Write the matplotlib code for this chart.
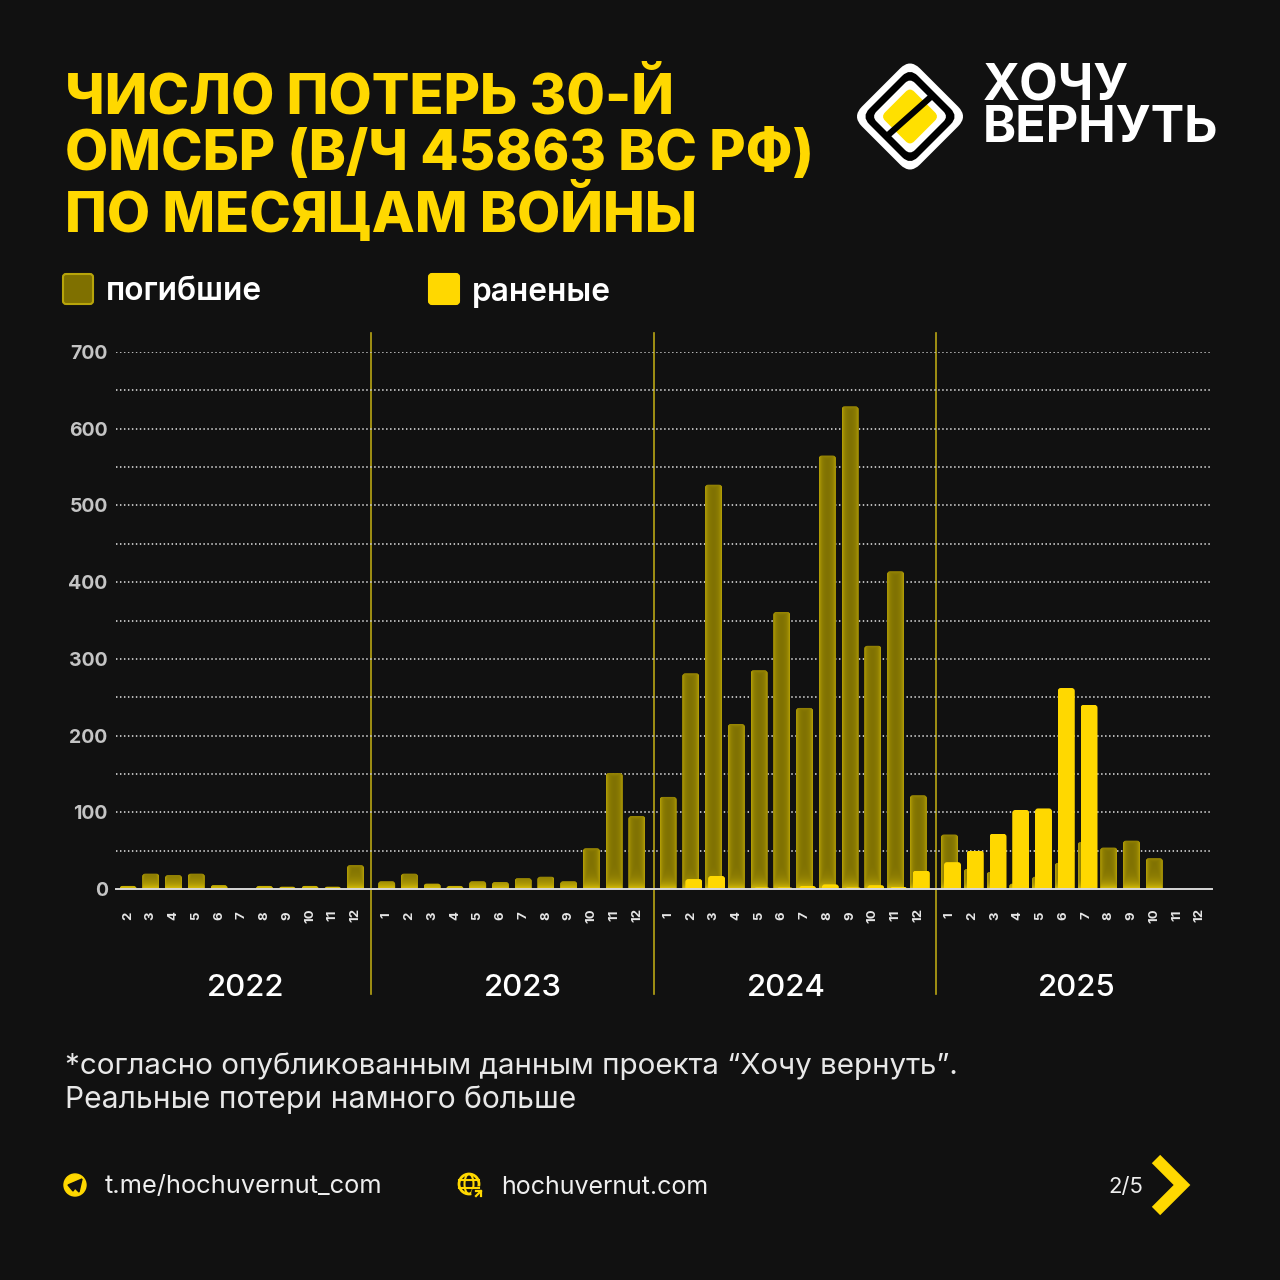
import numpy as np
import matplotlib
matplotlib.use("Agg")
import matplotlib.pyplot as plt
from matplotlib.patches import FancyBboxPatch, Circle, Polygon, Ellipse
from matplotlib.transforms import Affine2D

# monthly losses, 2022-02 .. 2025-12
years = [2022, 2023, 2024, 2025]
months_2022 = [2, 3, 4, 5, 6, 7, 8, 9, 10, 11, 12]
months_full = [1, 2, 3, 4, 5, 6, 7, 8, 9, 10, 11, 12]

killed_2022 = [4, 20, 18, 20, 5, 0, 4, 3, 4, 3, 31]
killed_2023 = [10, 20, 7, 4, 10, 9, 14, 16, 10, 53, 151, 95]
killed_2024 = [120, 281, 527, 215, 285, 361, 236, 565, 629, 317, 414, 122]
killed_2025 = [71, 26, 22, 7, 16, 34, 61, 54, 63, 40, 0, 0]

wounded_2022 = [0, 0, 0, 0, 0, 0, 0, 0, 0, 0, 0]
wounded_2023 = [0, 0, 0, 0, 0, 0, 0, 0, 0, 0, 0, 0]
wounded_2024 = [0, 13, 17, 1, 2, 2, 4, 6, 2, 5, 3, 24]
wounded_2025 = [35, 50, 72, 103, 105, 262, 240, 0, 0, 0, 0, 0]

y_ticks = [0, 100, 200, 300, 400, 500, 600, 700]
year_label_x = [246, 523, 786, 1077]
separator_x = [371, 653.5, 936]

BG = "#111111"
YELLOW = "#FFD800"
FONT = "Inter"
YEAR_GAP = 0.37
SLOT_PX = 22.75

plt.rcParams["font.family"] = [FONT, "DejaVu Sans"]

fig = plt.figure(figsize=(12.8, 12.8), dpi=100, facecolor=BG)

# page overlay in pixel coordinates, for header and footer
page = fig.add_axes([0, 0, 1, 1], zorder=0)
page.set_xlim(0, 1280)
page.set_ylim(1280, 0)
page.axis("off")

ax = fig.add_axes([116 / 1280, 1 - 889 / 1280, (1212 - 116) / 1280, 537 / 1280], zorder=1)
ax.set_facecolor("none")

# x positions per year with a small gap between them
xs, labels, killed, wounded = [], [], [], []
pos = 0.0
all_months = [months_2022, months_full, months_full, months_full]
all_killed = [killed_2022, killed_2023, killed_2024, killed_2025]
all_wounded = [wounded_2022, wounded_2023, wounded_2024, wounded_2025]
for i in range(len(years)):
    for m, k, w in zip(all_months[i], all_killed[i], all_wounded[i]):
        xs.append(pos)
        labels.append(str(m))
        killed.append(k)
        wounded.append(w)
        pos += 1
    pos += YEAR_GAP
xs = np.array(xs)

x_min = -12 / SLOT_PX
x_max = x_min + (1212 - 116) / SLOT_PX
ax.set_xlim(x_min, x_max)
ax.set_ylim(0, 700)

for s in ax.spines.values():
    s.set_visible(False)
ax.spines["bottom"].set_visible(True)
ax.spines["bottom"].set_color("#d8d8d8")
ax.spines["bottom"].set_linewidth(1.4)
ax.spines["bottom"].set_zorder(6)

ax.set_yticks(y_ticks)
ax.set_yticklabels([str(v) for v in y_ticks], color="#c4c4c4", fontsize=14, fontweight="bold")
ax.tick_params(axis="y", length=0, pad=6)
ax.set_xticks(xs)
ax.set_xticklabels(labels, rotation=90, color="#e6e6e6", fontsize=9.5, fontweight="bold", va="center")
ax.tick_params(axis="x", length=0, pad=19)

for v in range(50, 701, 50):
    ax.axhline(v, color="#c8c8c8", lw=1.3, dashes=(0.8, 1.4), zorder=1)

for s in separator_x:
    page.plot([s, s], [333, 994], color="#b8a514", lw=1.2)


def glow_image(w_px, h_px):
    # olive fill with a brighter inner edge and a strong glow at the foot
    ny, nx = max(int(h_px * 2), 2), max(int(w_px * 2), 2)
    yy, xx = np.mgrid[0:ny, 0:nx]
    d_side = np.minimum(xx, nx - 1 - xx) / 2
    d_top = yy / 2
    d_bot = (ny - 1 - yy) / 2
    t = np.maximum.reduce([0.6 * np.exp(-d_side / 2.5), 0.35 * np.exp(-d_top / 2.0),
                           1.0 * np.exp(-d_bot / 7.0)])
    dark = np.array([0x7E, 0x70, 0x02]) / 255
    bright = np.array([0xDC, 0xC2, 0x08]) / 255
    return dark + (bright - dark) * t[..., None]


def rounded_bars(x, values, width, color, gradient, z):
    bars = ax.bar(x, values, width=width, color=color, zorder=z)
    px_y = 537 / 700
    r = 3 / SLOT_PX
    for rect in bars:
        h = rect.get_height()
        if h <= 0:
            rect.set_visible(False)
            continue
        x0, w = rect.get_x(), rect.get_width()
        # box runs below the baseline so only the top corners show as round
        extra = 6 / px_y
        clip = FancyBboxPatch((x0, -extra), w, h + extra,
                              boxstyle=f"round,pad=0,rounding_size={r}",
                              mutation_aspect=SLOT_PX / px_y,
                              transform=ax.transData, facecolor="none", edgecolor="none")
        ax.add_patch(clip)
        rect.set_clip_path(clip)
        if gradient:
            im = ax.imshow(glow_image(w * SLOT_PX, h * px_y), extent=(x0, x0 + w, 0, h),
                           aspect="auto", zorder=z + 0.1, interpolation="bilinear")
            im.set_clip_path(clip)


BAR_W = 17 / SLOT_PX
rounded_bars(xs, killed, BAR_W, "#7E7002", True, 3)
rounded_bars(xs + 3 / SLOT_PX, wounded, BAR_W, YELLOW, False, 4)
ax.set_xlim(x_min, x_max)
ax.set_ylim(0, 700)

for yr, px in zip(years, year_label_x):
    page.text(px, 988, str(yr), color="white", fontsize=22.5, fontweight="medium", ha="center", va="center")

# title
title_lines = ["ЧИСЛО ПОТЕРЬ 30-Й", "ОМСБР (В/Ч 45863 ВС РФ)", "ПО МЕСЯЦАМ ВОЙНЫ"]
for line, y in zip(title_lines, [98, 155, 212]):
    page.text(65, y, line, color=YELLOW, fontsize=40.3, fontweight=800, ha="left", va="center")

# legend
for x0, c, ec in [(63, "#7F7000", "#B8A50A"), (429, YELLOW, YELLOW)]:
    page.add_patch(FancyBboxPatch((x0, 274), 30, 30, boxstyle="round,pad=0,rounding_size=3",
                                  facecolor=c, edgecolor=ec, lw=1.5))
page.text(106, 292, "погибшие", color="white", fontsize=22.8, fontweight="semibold", ha="left", va="center")
page.text(472, 292, "раненые", color="white", fontsize=22.8, fontweight="semibold", ha="left", va="center")

# footnote
page.text(65, 1066, "*согласно опубликованным данным проекта “Хочу вернуть”.", color="#e8e8e8",
          fontsize=21.3, ha="left", va="center")
page.text(65, 1100, "Реальные потери намного больше", color="#e8e8e8", fontsize=21.6, ha="left", va="center")

# footer
page.text(105, 1187, "t.me/hochuvernut_com", color="#eeeeee", fontsize=18.3, ha="left", va="center")
page.text(501, 1187, "hochuvernut.com", color="#eeeeee", fontsize=18, ha="left", va="center")
page.text(1108, 1187, "2/5", color="#eeeeee", fontsize=16, ha="left", va="center")
page.plot([1156, 1182, 1156], [1159, 1185, 1211], color=YELLOW, lw=8.5, solid_joinstyle="miter",
          solid_capstyle="butt")

# telegram icon
page.add_patch(Circle((75, 1185), 11, color=YELLOW))
page.add_patch(Polygon([[68, 1185], [82, 1179], [79, 1192], [75, 1188], [73, 1191]], color=BG))

# globe icon
page.add_patch(Circle((469, 1184), 10, facecolor="none", edgecolor=YELLOW, lw=2))
page.add_patch(Ellipse((469, 1184), 9, 20, facecolor="none", edgecolor=YELLOW, lw=1.5))
page.plot([459, 479], [1180, 1180], color=YELLOW, lw=1.5)
page.plot([459, 479], [1188, 1188], color=YELLOW, lw=1.5)
page.add_patch(Circle((478, 1193), 6, color=BG))
page.plot([476, 481, 481], [1191, 1191, 1196], color=YELLOW, lw=1.6)
page.plot([476, 481], [1196, 1191], color=YELLOW, lw=1.6)

# logo: nested rounded squares turned by 45 degrees
cx, cy = 910, 116.5
rot = Affine2D().rotate_deg_around(cx, cy, 45) + page.transData
for half, rad, col in [(41, 14, "white"), (34.3, 11, "black"), (27.2, 7, "white"), (20.6, 6, "#FFE000")]:
    page.add_patch(FancyBboxPatch((cx - half, cy - half), 2 * half, 2 * half,
                                  boxstyle=f"round,pad=0,rounding_size={rad}",
                                  facecolor=col, edgecolor="none", transform=rot))
page.plot([887, 933], [136, 95], color="black", lw=4.5, solid_capstyle="butt")
page.text(983, 108, "ХОЧУ\nВЕРНУТЬ", color="white", fontsize=36.2, fontweight="bold", ha="left", va="center",
          linespacing=0.85)

fig.savefig("out.png", dpi=100, facecolor=BG)
